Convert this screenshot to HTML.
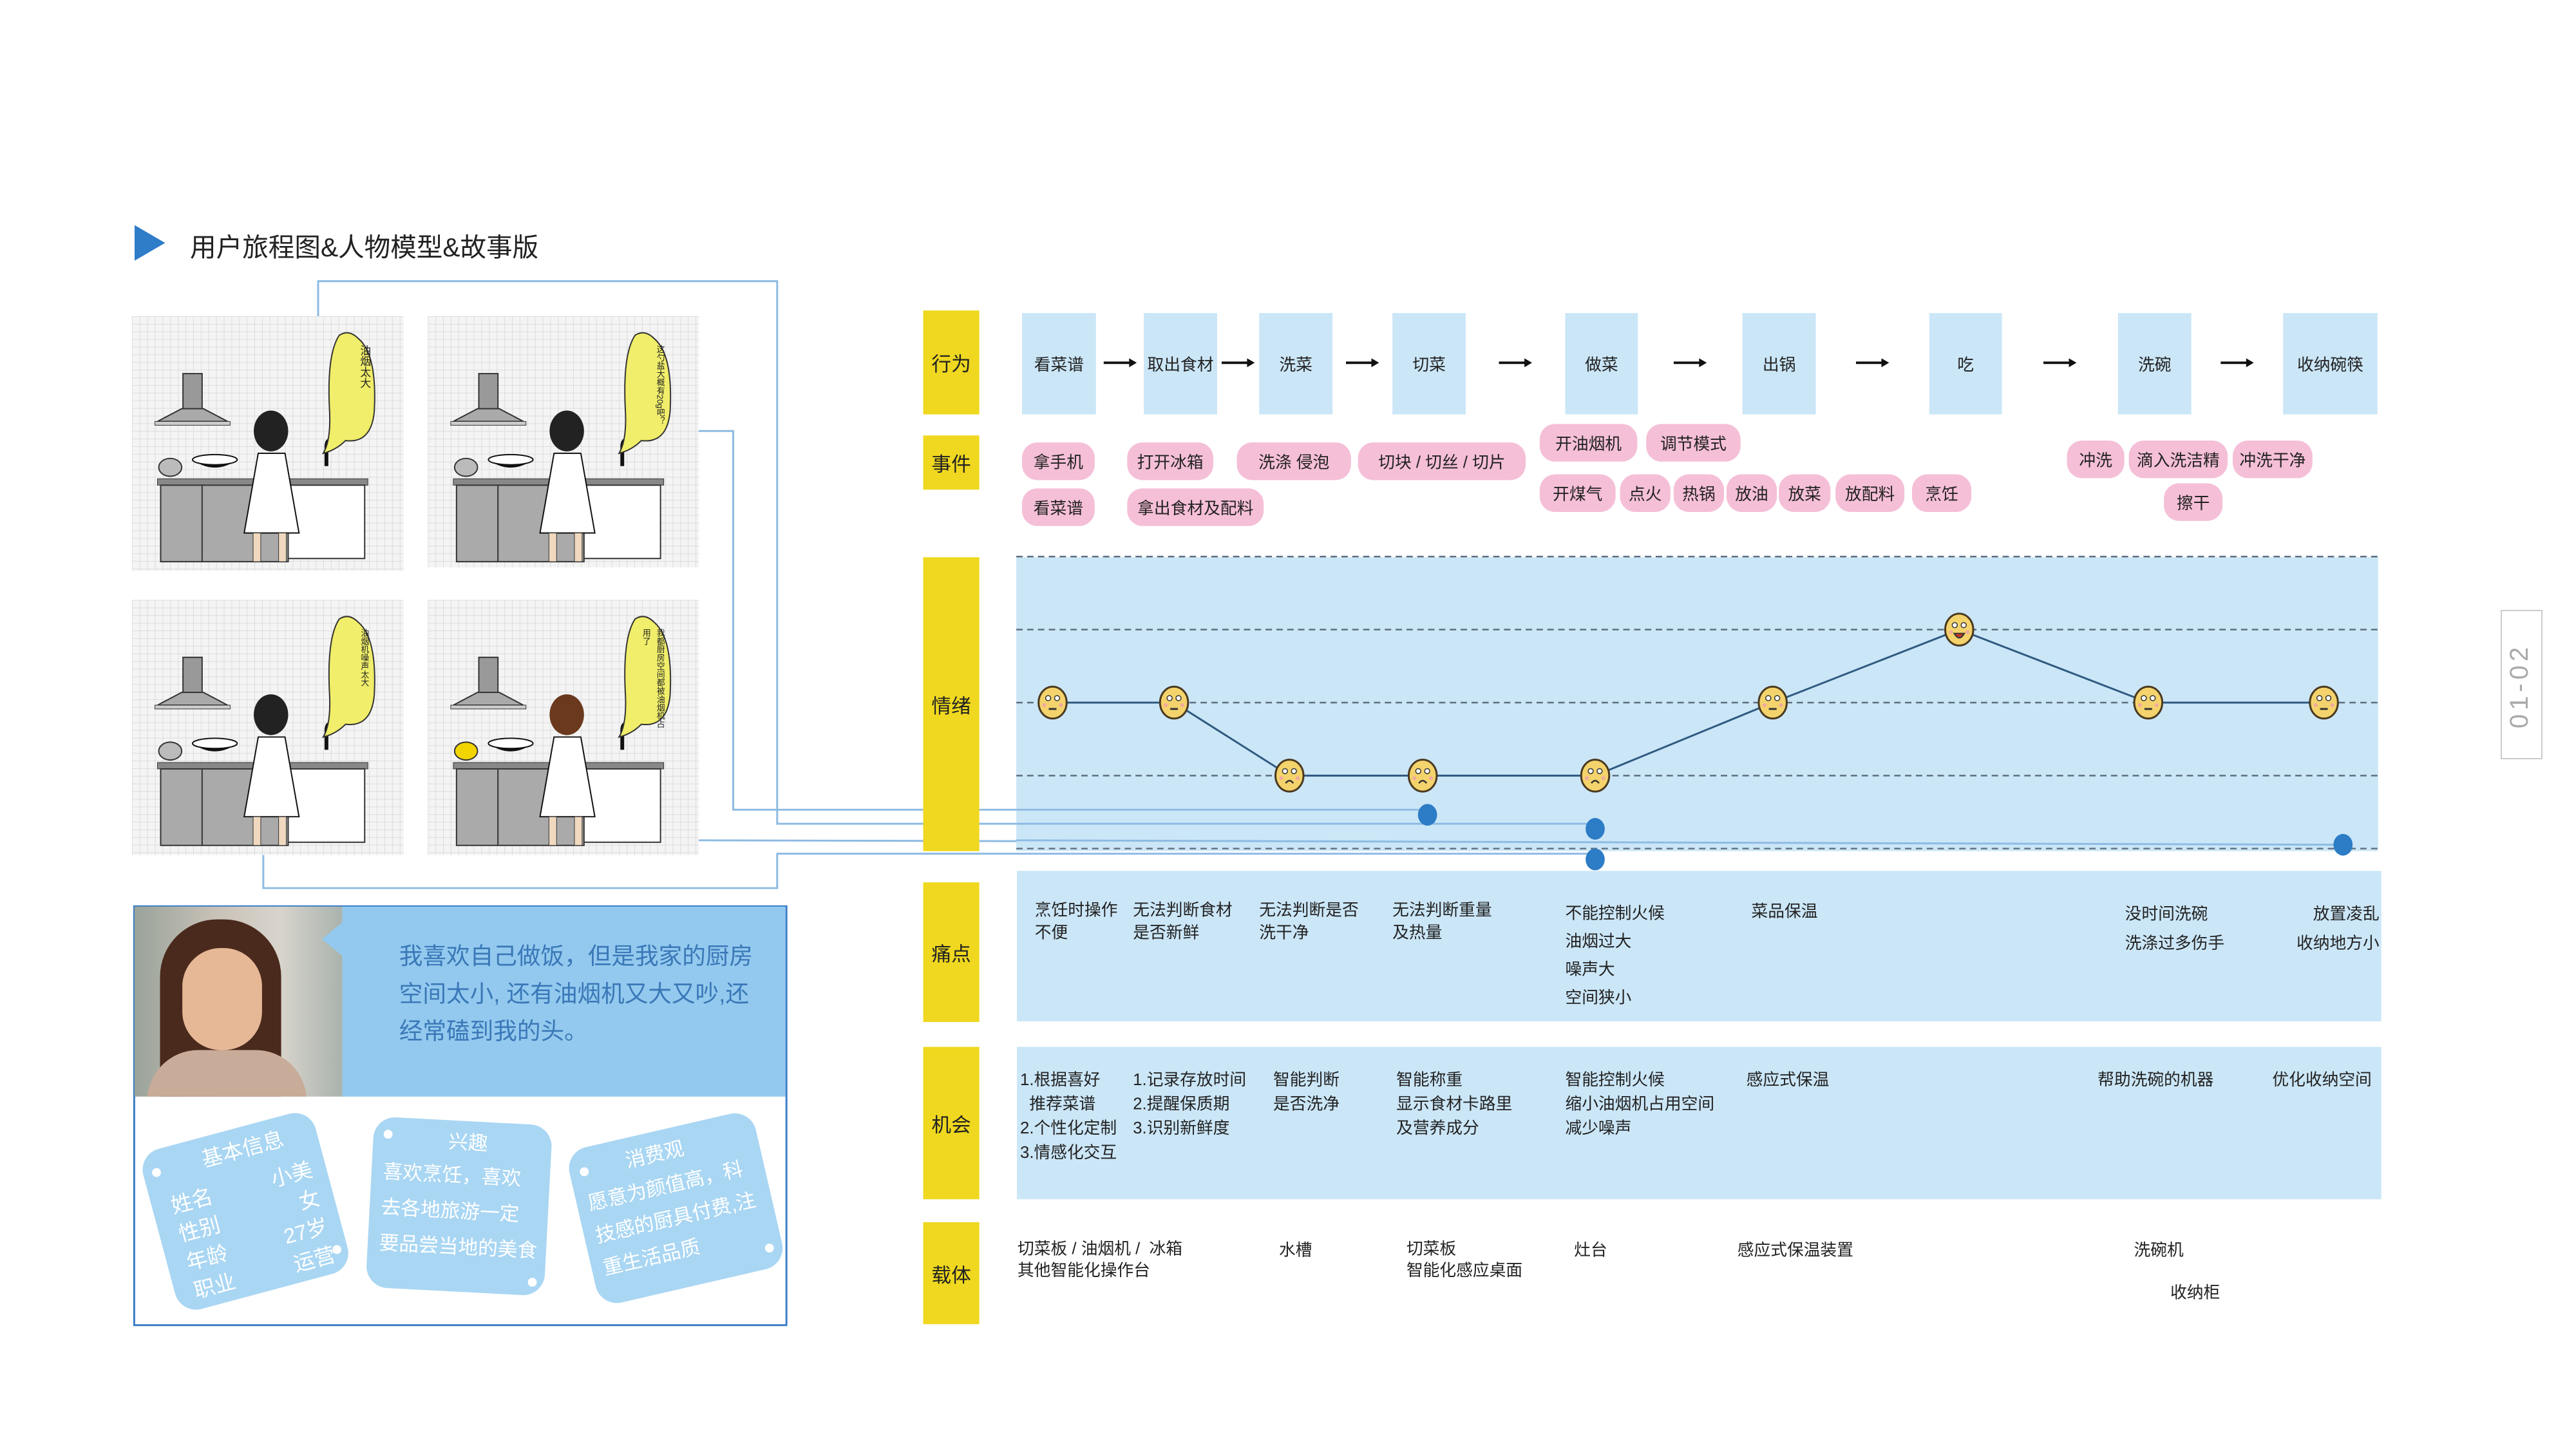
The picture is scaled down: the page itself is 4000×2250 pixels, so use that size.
<!DOCTYPE html>
<html><head><meta charset="utf-8">
<style>
*{margin:0;padding:0;box-sizing:border-box}
body{width:4000px;height:2250px;background:#fff;position:relative;overflow:hidden;font-family:"Liberation Sans","Noto Sans CJK SC",sans-serif;color:#222}
#wrap{position:absolute;left:0;top:0;width:4000px;height:2250px;transform:scale(0.99);transform-origin:0 0}
.a{position:absolute}
.lbl{position:absolute;left:1448px;width:88px;background:#efd81f;display:flex;align-items:center;justify-content:center;font-size:31px;color:#222}
.act{position:absolute;top:491px;height:159px;background:#cbe6f7;display:flex;align-items:center;justify-content:center;font-size:26px;white-space:nowrap}
.arr{position:absolute;top:560px;width:52px;height:18px}
.pill{position:absolute;background:#f5bfd7;border-radius:24px;display:flex;align-items:center;justify-content:center;font-size:26px;white-space:nowrap}
.t{position:absolute;font-size:26px;line-height:38px;white-space:nowrap}
.panel{position:absolute;background-color:#f4f4f4;background-image:linear-gradient(#dcdcdc 1px,transparent 1px),linear-gradient(90deg,#dcdcdc 1px,transparent 1px);background-size:12px 12px;overflow:hidden}
.card{position:absolute;background:#a9d6f3;border-radius:34px;color:#fff;font-size:33px;line-height:46px}
</style></head><body>
<div id="wrap">
<svg class="a" style="left:211px;top:353px" width="50" height="56"><polygon points="0,0 48,28 0,56" fill="#2f7cc9"/></svg>
<div class="a" style="left:298px;top:354px;font-size:41px;color:#222">用户旅程图&amp;人物模型&amp;故事版</div>

<svg class="a" style="left:0;top:0" width="4000" height="2250">
<g fill="none" stroke="#8dbbe3" stroke-width="3">
<polyline points="499,496 499,441 1219,441 1219,1292 2502,1292"/>
<polyline points="1096,676 1150,676 1150,1270 2239,1270"/>
<polyline points="1096,1318 3675,1325"/>
<polyline points="413,1341 413,1393 1219,1393 1219,1339 2502,1339"/>
</g>
</svg>

<div id="panels"></div>

<div class="a" style="left:209px;top:1420px;width:1026px;height:660px;border:3px solid #3a7dc6;background:#fff"></div>
<div class="a" style="left:211px;top:1422px;width:326px;height:298px;background:linear-gradient(90deg,#9aa39a 0%,#c9c2b8 40%,#d8d4cc 70%,#a9b3ad 100%);overflow:hidden">
 <div class="a" style="left:40px;top:20px;width:190px;height:300px;border-radius:90px 90px 20px 20px;background:#4a2a1c"></div>
 <div class="a" style="left:75px;top:65px;width:125px;height:160px;border-radius:60px;background:#e7b896"></div>
 <div class="a" style="left:20px;top:225px;width:250px;height:90px;border-radius:80px 80px 0 0;background:#c8ab98"></div>
</div>
<div class="a" style="left:537px;top:1422px;width:695px;height:298px;background:#93c9ee"></div>
<svg class="a" style="left:505px;top:1445px" width="34" height="56"><polygon points="34,0 0,28 34,56" fill="#93c9ee"/></svg>
<div class="a" style="left:626px;top:1470px;font-size:37px;line-height:59px;color:#3a78b8;white-space:nowrap">我喜欢自己做饭，但是我家的厨房<br>空间太小, 还有油烟机又大又吵,还<br>经常磕到我的头。</div>

<div class="card" style="left:245px;top:1770px;width:280px;height:260px;transform:rotate(-15deg)">
 <div class="a" style="left:95px;top:12px">基本信息</div>
 <div class="a" style="left:30px;top:70px;line-height:46px">姓名<br>性别<br>年龄<br>职业</div>
 <div class="a" style="right:22px;top:70px;text-align:right;line-height:46px">小美<br>女<br>27岁<br>运营</div>
 <div class="a" style="left:14px;top:28px;width:14px;height:14px;border-radius:50%;background:#fff"></div>
 <div class="a" style="right:10px;bottom:28px;width:14px;height:14px;border-radius:50%;background:#fff"></div>
</div>
<div class="card" style="left:580px;top:1758px;width:280px;height:268px;transform:rotate(3deg);font-size:31px;line-height:56px">
 <div class="a" style="left:118px;top:6px">兴趣</div>
 <div class="a" style="left:18px;top:58px;white-space:nowrap">喜欢烹饪，喜欢<br>去各地旅游一定<br>要品尝当地的美食</div>
 <div class="a" style="left:16px;top:20px;width:14px;height:14px;border-radius:50%;background:#fff"></div>
 <div class="a" style="right:12px;bottom:14px;width:14px;height:14px;border-radius:50%;background:#fff"></div>
</div>
<div class="card" style="left:910px;top:1770px;width:300px;height:250px;transform:rotate(-13deg);font-size:31px;line-height:52px">
 <div class="a" style="left:90px;top:10px">消费观</div>
 <div class="a" style="left:18px;top:62px;white-space:nowrap">愿意为颜值高，科<br>技感的厨具付费,注<br>重生活品质</div>
 <div class="a" style="left:16px;top:30px;width:14px;height:14px;border-radius:50%;background:#fff"></div>
 <div class="a" style="right:14px;bottom:24px;width:14px;height:14px;border-radius:50%;background:#fff"></div>
</div>

<div class="lbl" style="top:487px;height:163px">行为</div>
<div class="lbl" style="top:683px;height:85px">事件</div>
<div class="lbl" style="top:874px;height:461px">情绪</div>
<div class="lbl" style="top:1384px;height:219px">痛点</div>
<div class="lbl" style="top:1642px;height:239px">机会</div>
<div class="lbl" style="top:1917px;height:160px">载体</div>

<div id="acts"></div>
<div id="pills"></div>

<svg id="emo" class="a" style="left:0;top:0" width="4000" height="2250"></svg>

<div class="a" style="left:1595px;top:1366px;width:2140px;height:236px;background:#cbe6f7"></div>
<div class="t" style="left:1623px;top:1410px;line-height:35px">烹饪时操作<br>不便</div>
<div class="t" style="left:1777px;top:1410px;line-height:35px">无法判断食材<br>是否新鲜</div>
<div class="t" style="left:1975px;top:1410px;line-height:35px">无法判断是否<br>洗干净</div>
<div class="t" style="left:2184px;top:1410px;line-height:35px">无法判断重量<br>及热量</div>
<div class="t" style="left:2455px;top:1410px;line-height:44px">不能控制火候<br>油烟过大<br>噪声大<br>空间狭小</div>
<div class="t" style="left:2747px;top:1410px">菜品保温</div>
<div class="t" style="left:3333px;top:1410px;line-height:46px">没时间洗碗<br>洗涤过多伤手</div>
<div class="t" style="left:3590px;top:1410px;line-height:46px;text-align:right;width:142px">放置凌乱<br>收纳地方小</div>

<div class="a" style="left:1595px;top:1642px;width:2140px;height:239px;background:#cbe6f7"></div>
<div class="t" style="left:1600px;top:1674px">1.根据喜好<br>&nbsp;&nbsp;推荐菜谱<br>2.个性化定制<br>3.情感化交互</div>
<div class="t" style="left:1777px;top:1674px">1.记录存放时间<br>2.提醒保质期<br>3.识别新鲜度</div>
<div class="t" style="left:1997px;top:1674px">智能判断<br>是否洗净</div>
<div class="t" style="left:2190px;top:1674px">智能称重<br>显示食材卡路里<br>及营养成分</div>
<div class="t" style="left:2455px;top:1674px">智能控制火候<br>缩小油烟机占用空间<br>减少噪声</div>
<div class="t" style="left:2739px;top:1674px">感应式保温</div>
<div class="t" style="left:3290px;top:1674px">帮助洗碗的机器</div>
<div class="t" style="left:3564px;top:1674px">优化收纳空间</div>

<div class="t" style="left:1596px;top:1941px;line-height:34px">切菜板 / 油烟机 /&nbsp;&nbsp;冰箱<br>其他智能化操作台</div>
<div class="t" style="left:2006px;top:1941px">水槽</div>
<div class="t" style="left:2206px;top:1941px;line-height:34px">切菜板<br>智能化感应桌面</div>
<div class="t" style="left:2469px;top:1941px">灶台</div>
<div class="t" style="left:2725px;top:1941px">感应式保温装置</div>
<div class="t" style="left:3347px;top:1941px">洗碗机</div>
<div class="t" style="left:3404px;top:2008px">收纳柜</div>
</div>

<div class="a" style="left:3883px;top:947px;width:65px;height:232px;border:2px solid #ccc"></div>
<div class="a" style="left:3815px;top:1040px;width:200px;height:50px;text-align:center;font-size:40px;letter-spacing:6px;color:#aaa;transform:rotate(-90deg);transform-origin:center">01-02</div>

<script>
const steps=["看菜谱","取出食材","洗菜","切菜","做菜","出锅","吃","洗碗","收纳碗筷"];
const emotionValues=[0,0,-1,-1,-1,0,1,0,0];
const emotionLevels=[2,1,0,-1,-2];
const actLeft=[1603,1794,1975,2184,2455,2733,3026,3322,3581];
const actWidth=[116,115,115,115,114,115,114,115,148];
const actsEl=document.getElementById('acts');
steps.forEach((s,i)=>{
 const d=document.createElement('div');
 d.className='act';
 
 
 d.style.left=actLeft[i]+'px';d.style.width=actWidth[i]+'px';d.textContent=s;
 actsEl.appendChild(d);
 if(i<steps.length-1){
  const a=document.createElementNS('http://www.w3.org/2000/svg','svg');
  a.setAttribute('class','arr');
  
  
  const x0=actLeft[i]+actWidth[i],x1=actLeft[i+1];
  a.style.left=((x0+x1)/2-26)+'px';
  a.innerHTML='<line x1="0" y1="9" x2="42" y2="9" stroke="#111" stroke-width="4"/><polygon points="40,2 52,9 40,16" fill="#111"/>';
  actsEl.appendChild(a);
 }
});
const pills=[["拿手机",1603,694,114],["打开冰箱",1768,694,135],["洗涤 侵泡",1940,694,179],["切块 / 切丝 / 切片",2130,694,263],
["看菜谱",1603,766,114],["拿出食材及配料",1768,766,214],
["开油烟机",2415,665,153],["调节模式",2582,665,148],
["开煤气",2415,744,119],["点火",2541,744,79],["热锅",2625,744,79],["放油",2708,744,79],["放菜",2790,744,81],["放配料",2879,744,108],["烹饪",2999,744,93],
["冲洗",3242,691,90],["滴入洗洁精",3339,691,155],["冲洗干净",3502,691,125],["擦干",3394,758,92]];
const pe=document.getElementById('pills');
pills.forEach(p=>{const d=document.createElement('div');d.className='pill';
 
 
 d.style.left=p[1]+'px';d.style.top=p[2]+'px';d.style.width=p[3]+'px';d.style.height='59px';d.textContent=p[0];pe.appendChild(d);});

const svg=document.getElementById('emo');const NS='http://www.w3.org/2000/svg';
function yS(v){return 1102-v*114.5;}
function xS(i){return actLeft[i]+actWidth[i]/2-10;}
let h='<rect x="1594" y="874" width="2136" height="461" fill="#cbe6f7"/>';
emotionLevels.forEach(l=>{h+=`<line x1="1594" x2="3730" y1="${yS(l)}" y2="${yS(l)}" stroke="#5e6f80" stroke-width="2.5" stroke-dasharray="10,7"/>`;});
svg.innerHTML=h;
const line=document.createElementNS(NS,'polyline');


line.setAttribute('points',emotionValues.map((v,i)=>xS(i)+','+yS(v)).join(' '));
line.setAttribute('fill','none');line.setAttribute('stroke','#2f5a80');line.setAttribute('stroke-width','3');
svg.appendChild(line);
emotionValues.forEach((v,i)=>{
 const g=document.createElementNS(NS,'g');
 
 
 const cx=xS(i),cy=yS(v);
 let mouth=v>0?`<path d="M${cx-8},${cy+6} Q${cx},${cy+20} ${cx+8},${cy+6} Z" fill="#c0392b" stroke="#333" stroke-width="2"/>`:
  v<0?`<path d="M${cx-6},${cy+12} Q${cx},${cy+4} ${cx+6},${cy+12}" fill="none" stroke="#333" stroke-width="2.5"/>`:
  `<line x1="${cx-6}" x2="${cx+6}" y1="${cy+10}" y2="${cy+10}" stroke="#333" stroke-width="3"/>`;
 g.innerHTML=`<ellipse cx="${cx}" cy="${cy}" rx="22" ry="25" fill="#f4d36c" stroke="#4a3a20" stroke-width="3"/>
 <circle cx="${cx-7}" cy="${cy-7}" r="4" fill="#fff" stroke="#333" stroke-width="1.5"/><circle cx="${cx+7}" cy="${cy-7}" r="4" fill="#fff" stroke="#333" stroke-width="1.5"/>
 <circle cx="${cx-13}" cy="${cy+4}" r="3" fill="#f2a9a0"/><circle cx="${cx+13}" cy="${cy+4}" r="3" fill="#f2a9a0"/>`+mouth;
 svg.appendChild(g);
});
svg.insertAdjacentHTML('beforeend','<line x1="1594" x2="2239" y1="1270" y2="1270" stroke="#8dbbe3" stroke-width="3"/><line x1="1594" x2="2502" y1="1292" y2="1292" stroke="#8dbbe3" stroke-width="3"/><line x1="1594" x2="3675" y1="1318" y2="1325" stroke="#8dbbe3" stroke-width="3"/>');
[[2239,1278],[2502,1300],[2502,1348],[3675,1325]].forEach(d=>{const c=document.createElementNS(NS,'ellipse');
 
 
 c.setAttribute('cx',d[0]);c.setAttribute('cy',d[1]);c.setAttribute('rx',15);c.setAttribute('ry',17);c.setAttribute('fill','#2c7cc6');svg.appendChild(c);});

const panelsEl=document.getElementById('panels');
const panelBox=[[207,496,426,399],[671,496,425,394],[207,941,426,400],[671,941,425,400]];
const bubbles=["油烟太大","这勺盐大概有20g吧？","油烟机噪声太大","我都厨房空间都被油烟机占用了"];
panelBox.forEach((b,i)=>{
 const d=document.createElement('div');d.className='panel';
 
 
 d.style.left=b[0]+'px';d.style.top=b[1]+'px';d.style.width=b[2]+'px';d.style.height=b[3]+'px';
 const hair=i==3?'#6b3a1e':'#222';
 d.innerHTML=`<svg width="${b[2]}" height="${b[3]}">
 <rect x="80" y="90" width="30" height="60" fill="#999" stroke="#333" stroke-width="2"/>
 <polygon points="40,165 150,165 112,145 78,145" fill="#aaa" stroke="#333" stroke-width="2"/>
 <rect x="36" y="165" width="118" height="6" fill="#ccc" stroke="#333"/>
 <rect x="40" y="255" width="330" height="10" fill="#888" stroke="#333"/>
 <rect x="45" y="265" width="200" height="120" fill="#aaa" stroke="#333" stroke-width="2"/>
 <line x1="110" y1="265" x2="110" y2="385" stroke="#333" stroke-width="2"/>
 <rect x="245" y="265" width="120" height="115" fill="#fff" stroke="#333" stroke-width="2"/>
 <path d="M95,225 Q130,250 165,225 Z" fill="#111"/><ellipse cx="130" cy="225" rx="35" ry="8" fill="#fff" stroke="#111" stroke-width="2"/>
 <ellipse cx="60" cy="237" rx="18" ry="14" fill="${i==3?'#f2d400':'#bbb'}" stroke="#333" stroke-width="2"/>
 <path d="M305,235 L305,205 Q305,190 318,195 L318,205" fill="none" stroke="#111" stroke-width="6"/>
 <polygon points="198,215 240,215 262,340 176,340" fill="#fff" stroke="#111" stroke-width="2"/>
 <rect x="190" y="340" width="12" height="45" fill="#f0d9c0" stroke="#333"/><rect x="230" y="340" width="12" height="45" fill="#f0d9c0" stroke="#333"/>
 <ellipse cx="218" cy="180" rx="27" ry="32" fill="${hair}"/>
 <path d="M325,30 Q305,60 310,150 Q312,195 300,215 Q320,210 335,195 Q375,200 380,150 Q385,60 355,35 Q340,20 325,30 Z" fill="#f0ee6a" stroke="#333" stroke-width="2"/>
 </svg><div style="position:absolute;left:315px;top:45px;width:60px;height:160px;writing-mode:vertical-rl;font-size:${bubbles[i].length>6?13:17}px;line-height:22px;color:#222">${bubbles[i]}</div>`;
 panelsEl.appendChild(d);
});
</script>
</body></html>
